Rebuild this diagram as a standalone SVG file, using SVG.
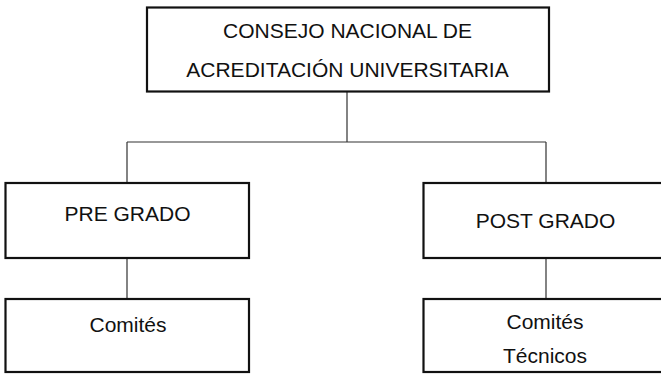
<svg xmlns="http://www.w3.org/2000/svg" width="661" height="374" viewBox="0 0 661 374">
<style>
.box{fill:#fff;stroke:#111;stroke-width:2.2}
.t{font-family:"Liberation Sans",Arial,sans-serif;font-size:21px;fill:#111;text-anchor:middle}
.c{stroke:#333;stroke-width:1.2;fill:none}
</style>
<rect width="661" height="374" fill="#fff"/>
<g id="connectors">
<path class="c" d="M347 92V142M127 142H546M127 142V183M546 142V183M127 258V299M546 258V299"/>
</g>
<g id="consejo">
<rect class="box" x="147" y="7.5" width="402" height="84"/>
<text class="t" x="347.5" y="38">CONSEJO NACIONAL DE</text>
<text class="t" x="347.5" y="77">ACREDITACIÓN UNIVERSITARIA</text>
</g>
<g id="pregrado">
<rect class="box" x="5.5" y="183" width="243.5" height="75"/>
<text class="t" x="127.5" y="221">PRE GRADO</text>
</g>
<g id="comites">
<rect class="box" x="5.5" y="299" width="243.5" height="73"/>
<text class="t" x="128" y="332">Comités</text>
</g>
<g id="postgrado">
<rect class="box" x="423.5" y="183" width="245" height="75"/>
<text class="t" x="545.5" y="228">POST GRADO</text>
</g>
<g id="comites-tecnicos">
<rect class="box" x="423.5" y="299" width="245" height="73"/>
<text class="t" x="545" y="329">Comités</text>
<text class="t" x="545" y="363">Técnicos</text>
</g>
</svg>
